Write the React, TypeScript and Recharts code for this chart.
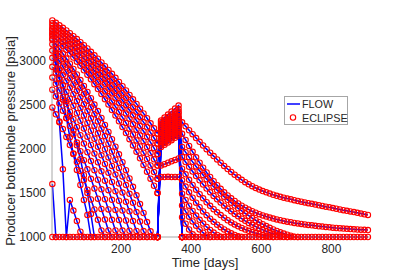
import React from 'react'
import { ComposedChart, Line, XAxis, YAxis, Label } from 'recharts'

// Shared report times [days]
const TIME = [
  4, 14, 24, 34, 44, 54, 64, 74, 84, 94,
  104, 114, 124, 134, 144, 154, 164, 174, 184, 194,
  204, 214, 224, 234, 244, 254, 264, 274, 284, 294,
  304, 314, 324, 334, 344, 354, 364, 374, 384, 394,
  404, 414, 424, 434, 444, 454, 464, 474, 484, 494,
  504, 514, 524, 534, 544, 554, 564, 574, 584, 594,
  604, 614, 624, 634, 644, 654, 664, 674, 684, 694,
  704, 714, 724, 734, 744, 754, 764, 774, 784, 794,
  804, 814, 824, 834, 844, 854, 864, 874, 884, 894,
  904,
]

const X_TICKS = [200, 400, 600, 800]
const Y_TICKS = [1000, 1500, 2000, 2500, 3000]
const BHP_LIMIT = 1000

// index in TIME where the second schedule period starts (day 304)
const LATE_START = 30

// producer BHP [psia], first period (from day 4)
const W01_PRE = [3455, 3428, 3400, 3371, 3341, 3310, 3277, 3244, 3209, 3174, 3137, 3099, 3060, 3021, 2979, 2937, 2894, 2850, 2804, 2758, 2710, 2661, 2611, 2561, 2509, 2455, 2401, 2346, 2289, 2232, 2173]
const W02_PRE = [3424, 3395, 3366, 3335, 3303, 3270, 3235, 3200, 3163, 3125, 3086, 3046, 3004, 2962, 2918, 2873, 2827, 2780, 2732, 2682, 2631, 2580, 2526, 2472, 2417, 2360, 2303, 2244, 2184, 2122, 2060]
const W03_PRE = [3393, 3363, 3331, 3298, 3264, 3229, 3192, 3154, 3115, 3075, 3033, 2990, 2946, 2901, 2854, 2806, 2757, 2707, 2656, 2603, 2549, 2494, 2437, 2379, 2320, 2260, 2199, 2136, 2072, 2007, 1940]
const W04_PRE = [3362, 3330, 3296, 3261, 3224, 3187, 3147, 3107, 3065, 3022, 2978, 2932, 2885, 2836, 2787, 2736, 2683, 2629, 2574, 2518, 2460, 2401, 2341, 2279, 2216, 2152, 2086, 2019, 1951, 1881, 1810]
const W05_PRE = [3322, 3287, 3250, 3213, 3174, 3133, 3092, 3048, 3004, 2957, 2910, 2861, 2810, 2759, 2705, 2651, 2595, 2537, 2478, 2418, 2356, 2293, 2228, 2162, 2095, 2026, 1956, 1884, 1811, 1736, 1660]
const W06_PRE = [3281, 3243, 3204, 3164, 3122, 3079, 3034, 2988, 2940, 2890, 2839, 2787, 2733, 2677, 2620, 2562, 2502, 2440, 2377, 2312, 2246, 2178, 2109, 2038, 1966, 1892, 1817, 1740, 1661, 1581, 1500]
const W07_PRE = [3236, 3186, 3134, 3079, 3023, 2965, 2905, 2843, 2779, 2712, 2644, 2574, 2501, 2427, 2350, 2271, 2191, 2108, 2024, 1937, 1848, 1757, 1664, 1569, 1472, 1373, 1272, 1169, 1064, 1000]
const W08_PRE = [3184, 3130, 3074, 3016, 2955, 2892, 2827, 2760, 2691, 2620, 2546, 2470, 2392, 2311, 2229, 2144, 2057, 1968, 1877, 1783, 1687, 1589, 1489, 1387, 1282, 1175, 1067, 1000]
const W09_PRE = [3113, 3055, 2994, 2932, 2867, 2799, 2729, 2657, 2583, 2506, 2427, 2345, 2261, 2175, 2086, 1995, 1902, 1806, 1708, 1607, 1504, 1399, 1291, 1181, 1069, 1000]
const W10_PRE = [3031, 2969, 2903, 2836, 2766, 2694, 2618, 2541, 2461, 2378, 2293, 2205, 2114, 2022, 1926, 1828, 1728, 1624, 1519, 1411, 1300, 1187, 1071, 1000]
const W11_PRE = [2929, 2862, 2792, 2720, 2645, 2567, 2487, 2403, 2318, 2229, 2137, 2043, 1946, 1847, 1744, 1639, 1531, 1421, 1307, 1192, 1073, 1000]
const W12_PRE = [2807, 2736, 2661, 2584, 2504, 2421, 2335, 2246, 2154, 2059, 1961, 1861, 1757, 1650, 1541, 1429, 1313, 1195, 1074, 1000]
const W13_PRE = [3350, 2900, 2300, 1767, 1000, 1420, 1300, 1180, 1060, 1000]
const W14_PRE = [1600, 1000]
const W15_PRE = [3300, 3050, 2800, 2560, 2350, 2130, 1940, 1760, 1590, 1420, 1250, 1000]
const W16_PRE = [3250, 3080, 2900, 2720, 2540, 2370, 2210, 2040, 1880, 1700, 1500, 1260, 1000]
const W17_PRE = [2670, 2594, 2515, 2432, 2346, 2258, 2166, 2071, 1973, 1871, 1767, 1660, 1549, 1435, 1318, 1198, 1075, 1000]
const W18_PRE = [2469, 2391, 2309, 2223, 2135, 2043, 1948, 1850, 1749, 1645, 1537, 1426, 1312, 1195, 1074, 1000]

// producer BHP [psia], second period (from day 304)
const W01_LATE = [2173, 2300, 2330, 2360, 2390, 2420, 2450, 2300, 2255, 2210, 2166, 2122, 2079, 2037, 1996, 1956, 1917, 1879, 1842, 1806, 1771, 1738, 1706, 1676, 1648, 1622, 1598, 1576, 1556, 1538, 1521, 1506, 1492, 1479, 1467, 1456, 1446, 1436, 1427, 1418, 1409, 1400, 1392, 1384, 1376, 1368, 1360, 1352, 1344, 1336, 1328, 1320, 1312, 1304, 1297, 1290, 1282, 1274, 1266, 1258, 1250]
const W02_LATE = [2060, 2260, 2288, 2316, 2344, 2372, 2400, 2170, 2100, 2032, 1966, 1903, 1843, 1786, 1732, 1681, 1633, 1588, 1546, 1507, 1471, 1438, 1408, 1380, 1355, 1332, 1311, 1292, 1275, 1259, 1245, 1232, 1220, 1209, 1199, 1190, 1182, 1174, 1167, 1160, 1154, 1148, 1142, 1137, 1132, 1127, 1122, 1118, 1114, 1110, 1106, 1102, 1099, 1096, 1093, 1090, 1087, 1085, 1083, 1081, 1079]
const W03_LATE = [1940, 2220, 2246, 2272, 2298, 2324, 2350, 2020, 1962, 1906, 1852, 1800, 1750, 1702, 1656, 1612, 1570, 1530, 1492, 1456, 1421, 1388, 1356, 1325, 1296, 1268, 1241, 1215, 1190, 1167, 1145, 1124, 1104, 1086, 1069, 1053, 1039, 1026, 1014, 1003, 1000]
const W04_LATE = [1810, 2180, 2206, 2232, 2258, 2284, 2310, 1907, 1850, 1795, 1742, 1691, 1642, 1595, 1550, 1507, 1466, 1427, 1390, 1355, 1322, 1291, 1262, 1234, 1208, 1183, 1160, 1138, 1118, 1099, 1081, 1065, 1050, 1036, 1024, 1013, 1003, 1000]
const W05_LATE = [1660, 1810, 1826, 1842, 1858, 1874, 1890, 1775, 1710, 1648, 1590, 1536, 1485, 1438, 1394, 1353, 1315, 1280, 1248, 1218, 1190, 1165, 1142, 1121, 1102, 1085, 1070, 1056, 1044, 1033, 1023, 1014, 1006, 1000]
const W06_LATE = [1500, 1680, 1680, 1682, 1680, 1681, 1680, 1642, 1572, 1506, 1445, 1389, 1337, 1290, 1247, 1208, 1172, 1140, 1111, 1085, 1062, 1042, 1024, 1008, 1000]
const W07_LATE = [1000, 2140, 2166, 2192, 2218, 2244, 2270, 1491, 1420, 1355, 1296, 1243, 1195, 1152, 1114, 1080, 1050, 1024, 1002, 1000]
const W08_LATE = [1000, 2100, 2126, 2152, 2178, 2204, 2230, 1358, 1290, 1230, 1176, 1128, 1086, 1049, 1017, 1000]
const W09_LATE = [1000, 2060, 2086, 2112, 2138, 2164, 2190, 1225, 1150, 1085, 1030, 1000]
const W10_LATE = [1000, 2320, 2354, 2388, 2422, 2456, 2490, 1000]
const W11_LATE = [1000, 2280, 2308, 2336, 2364, 2392, 2420, 1000]
const W12_LATE = [1000, 2240, 2266, 2292, 2318, 2344, 2370, 1000]
const W13_LATE = [1000, 2120, 2146, 2172, 2198, 2224, 2250, 1000]
const W14_LATE = [1000, 2080, 2106, 2132, 2158, 2184, 2210, 1000]
const W15_LATE = [1000, 2040, 2066, 2092, 2118, 2144, 2170, 1000]
const W16_LATE = [1000, 2020, 2046, 2072, 2098, 2124, 2150, 1000]
const W17_LATE = [1000, 2200, 2226, 2252, 2278, 2304, 2330, 1000]
const W18_LATE = [1000, 2160, 2186, 2212, 2238, 2264, 2290, 1000]

const WELLS = [
  { id: 'w01', pre: W01_PRE, late: W01_LATE },
  { id: 'w02', pre: W02_PRE, late: W02_LATE },
  { id: 'w03', pre: W03_PRE, late: W03_LATE },
  { id: 'w04', pre: W04_PRE, late: W04_LATE },
  { id: 'w05', pre: W05_PRE, late: W05_LATE },
  { id: 'w06', pre: W06_PRE, late: W06_LATE },
  { id: 'w07', pre: W07_PRE, late: W07_LATE },
  { id: 'w08', pre: W08_PRE, late: W08_LATE },
  { id: 'w09', pre: W09_PRE, late: W09_LATE },
  { id: 'w10', pre: W10_PRE, late: W10_LATE },
  { id: 'w11', pre: W11_PRE, late: W11_LATE },
  { id: 'w12', pre: W12_PRE, late: W12_LATE },
  { id: 'w13', pre: W13_PRE, late: W13_LATE },
  { id: 'w14', pre: W14_PRE, late: W14_LATE },
  { id: 'w15', pre: W15_PRE, late: W15_LATE },
  { id: 'w16', pre: W16_PRE, late: W16_LATE },
  { id: 'w17', pre: W17_PRE, late: W17_LATE },
  { id: 'w18', pre: W18_PRE, late: W18_LATE },
]

type Pt = { t: number; p: number }

const toSeries = (values: number[], start: number): Pt[] =>
  values.map((p, k) => ({ t: TIME[start + k], p }))

// wells sitting on the BHP limit (no producer is at the limit days 314-364)
const floorA = TIME.slice(0, LATE_START + 1).map((t) => ({ t, p: BHP_LIMIT }))
const floorB = TIME.slice(LATE_START + 7).map((t) => ({ t, p: BHP_LIMIT }))

const SEGMENTS: { key: string; data: Pt[] }[] = [
  { key: 'floorA', data: floorA },
  { key: 'floorB', data: floorB },
  ...WELLS.flatMap((w) => [
    { key: w.id + 'a', data: toSeries(w.pre, 0) },
    { key: w.id + 'b', data: toSeries(w.late, LATE_START) },
  ]),
]

const FONT = 'Liberation Sans, Arial, Helvetica, sans-serif'
const AXIS_GRAY = '#a6a6a6'
const TEXT = '#262626'

export default function App() {
  return (
    <div style={{ position: 'relative', width: 407, height: 271, background: '#fff' }}>
      <style>{'body{margin:0}'}</style>
      <ComposedChart width={407} height={271} margin={{ top: 20, right: 37, bottom: 0, left: 0 }}>
        <XAxis
          type="number"
          dataKey="t"
          domain={[3, 910]}
          ticks={X_TICKS}
          height={34}
          axisLine={{ stroke: AXIS_GRAY }}
          tickLine={false}
          tickSize={5}
          tickMargin={2}
          tick={{ fill: TEXT, fontSize: 12, fontFamily: FONT }}
        >
          <Label
            content={() => (
              <text x={205} y={267} textAnchor="middle" fill={TEXT} fontSize={13} fontFamily={FONT}>
                Time [days]
              </text>
            )}
          />
        </XAxis>
        <YAxis
          type="number"
          dataKey="p"
          domain={[1000, 3460]}
          ticks={Y_TICKS}
          width={52}
          axisLine={{ stroke: AXIS_GRAY }}
          tickLine={false}
          tickSize={5}
          tickMargin={1}
          tick={{ fill: TEXT, fontSize: 12, fontFamily: FONT }}
        >
          <Label
            content={() => (
              <text
                x={15}
                y={141}
                transform="rotate(-90 15 141)"
                textAnchor="middle"
                fill={TEXT}
                fontSize={13}
                fontFamily={FONT}
              >
                Producer bottomhole pressure [psia]
              </text>
            )}
          />
        </YAxis>
        {SEGMENTS.map((s) => (
          <Line
            key={'flow-' + s.key}
            data={s.data}
            dataKey="p"
            type="linear"
            stroke="#0000ff"
            strokeWidth={1.5}
            dot={false}
            activeDot={false}
            isAnimationActive={false}
          />
        ))}
        {SEGMENTS.map((s) => (
          <Line
            key={'ecl-' + s.key}
            data={s.data}
            dataKey="p"
            type="linear"
            stroke="none"
            dot={{ r: 2.7, stroke: '#ff0000', strokeWidth: 1.1, fill: 'none' }}
            activeDot={false}
            isAnimationActive={false}
          />
        ))}
      </ComposedChart>
      <svg width={407} height={271} style={{ position: 'absolute', left: 0, top: 0, pointerEvents: 'none' }}>
        <rect x={284.5} y={96.5} width={63} height={28} fill="#fff" stroke={AXIS_GRAY} strokeWidth={1} />
        <line x1={287} y1={104} x2={300} y2={104} stroke="#0000ff" strokeWidth={1.5} />
        <text x={302} y={108} fill={TEXT} fontSize={10.8} fontFamily={FONT}>FLOW</text>
        <circle cx={293} cy={117.5} r={2.7} stroke="#ff0000" strokeWidth={1.1} fill="none" />
        <text x={302} y={121.5} fill={TEXT} fontSize={10.8} fontFamily={FONT}>ECLIPSE</text>
      </svg>
    </div>
  )
}
